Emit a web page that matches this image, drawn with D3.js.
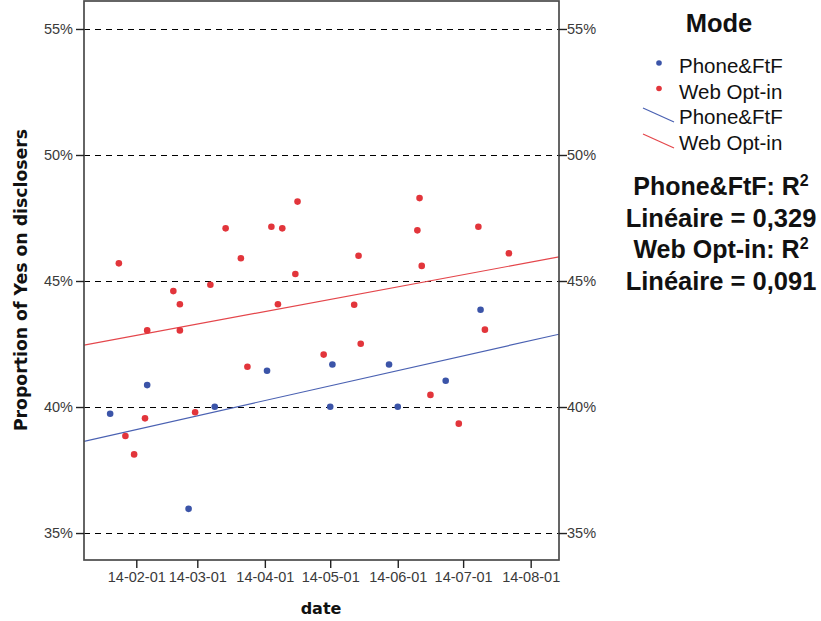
<!DOCTYPE html>
<html>
<head>
<meta charset="utf-8">
<script src="https://cdn.jsdelivr.net/npm/d3@7"></script>
<style>
  html, body { margin: 0; padding: 0; background: #fff; }
  svg { display: block; }
</style>
</head>
<body>
<svg id="chart" width="821" height="621"></svg>
<script>
// ---- Data ----
const seriesNames = ["Phone&FtF", "Web Opt-in"];
const phoneDates = ["2014-01-20","2014-02-06","2014-02-25","2014-03-09","2014-04-02","2014-05-02","2014-05-01","2014-05-28","2014-06-01","2014-06-23","2014-07-09"];
const phoneValues = [0.3973,0.4087,0.3596,0.4001,0.4144,0.4169,0.4001,0.4169,0.4001,0.4104,0.4386];
const webDates = ["2014-01-24","2014-01-27","2014-01-31","2014-02-06","2014-02-05","2014-02-18","2014-02-21","2014-02-21","2014-02-28","2014-03-07","2014-03-14","2014-03-21","2014-03-24","2014-04-04","2014-04-07","2014-04-09","2014-04-15","2014-04-16","2014-04-28","2014-05-12","2014-05-14","2014-05-15","2014-06-10","2014-06-11","2014-06-12","2014-06-16","2014-06-29","2014-07-08","2014-07-11","2014-07-22"];
const webValues = [0.4570,0.3885,0.3812,0.4304,0.3955,0.4460,0.4408,0.4304,0.3979,0.4485,0.4709,0.4590,0.4160,0.4715,0.4408,0.4709,0.4528,0.4815,0.4208,0.4406,0.4600,0.4251,0.4701,0.4829,0.4560,0.4048,0.3934,0.4715,0.4307,0.4610];
const rSquared = ["0,329", "0,091"];
const yTicks = [0.35, 0.40, 0.45, 0.50, 0.55];
const xDomainDates = ["2014-01-08", "2014-08-14"];
const yDomain = [0.3393, 0.5611];

// ---- Setup ----
const parse = d3.utcParse("%Y-%m-%d");
const colors = { "Phone&FtF": "#3b54a8", "Web Opt-in": "#e2353b" };
const lineColors = { "Phone&FtF": "#4a61b2", "Web Opt-in": "#e4464b" };

const plot = { left: 84, right: 559, top: 1, bottom: 560 };
const svg = d3.select("#chart");
svg.append("rect").attr("width", 821).attr("height", 621).attr("fill", "#fff");

const x = d3.scaleUtc().domain(xDomainDates.map(parse)).range([plot.left, plot.right]);
const y = d3.scaleLinear().domain(yDomain).range([plot.bottom, plot.top]);

const series = [
  { name: seriesNames[0], pts: phoneDates.map((d, i) => ({ date: parse(d), v: phoneValues[i] })) },
  { name: seriesNames[1], pts: webDates.map((d, i) => ({ date: parse(d), v: webValues[i] })) }
];

// gridlines
svg.append("g").selectAll("line").data(yTicks).join("line")
  .attr("x1", plot.left).attr("x2", plot.right)
  .attr("y1", d => Math.round(y(d)) + 0.5).attr("y2", d => Math.round(y(d)) + 0.5)
  .attr("stroke", "#000").attr("stroke-width", 1.2).attr("stroke-dasharray", "6,5")
  .attr("shape-rendering", "crispEdges");

// regression lines (least squares on time)
svg.append("clipPath").attr("id", "plotclip").append("rect")
  .attr("x", plot.left).attr("y", plot.top).attr("width", plot.right - plot.left).attr("height", plot.bottom - plot.top);
series.forEach(s => {
  const xs = s.pts.map(p => +p.date), ys = s.pts.map(p => p.v);
  const mx = d3.mean(xs), my = d3.mean(ys);
  let sxy = 0, sxx = 0;
  xs.forEach((xv, i) => { sxy += (xv - mx) * (ys[i] - my); sxx += (xv - mx) ** 2; });
  const b = sxy / sxx, a = my - b * mx;
  const [d0, d1] = x.domain();
  svg.append("line")
    .attr("x1", x(d0)).attr("y1", y(a + b * +d0))
    .attr("x2", x(d1)).attr("y2", y(a + b * +d1))
    .attr("stroke", lineColors[s.name]).attr("stroke-width", 1.2)
    .attr("clip-path", "url(#plotclip)");
});

// points
series.forEach(s => {
  svg.append("g").selectAll("circle").data(s.pts).join("circle")
    .attr("cx", d => x(d.date)).attr("cy", d => y(d.v)).attr("r", 3.3)
    .attr("fill", colors[s.name]);
});

// frame
svg.append("rect").attr("x", plot.left).attr("y", plot.top)
  .attr("width", plot.right - plot.left).attr("height", plot.bottom - plot.top)
  .attr("fill", "none").attr("stroke", "#4a4a4a").attr("stroke-width", 1.7);

// axes
const pct = d3.format(".0%");
const tickFont = "Liberation Sans, Arial, sans-serif";
const yLeft = svg.append("g").attr("transform", `translate(${plot.left},0)`)
  .call(d3.axisLeft(y).tickValues(yTicks).tickFormat(pct).tickSize(8).tickPadding(3));
const yRight = svg.append("g").attr("transform", `translate(${plot.right},0)`)
  .call(d3.axisRight(y).tickValues(yTicks).tickFormat(pct).tickSize(8).tickPadding(0));
const xAxis = svg.append("g").attr("transform", `translate(0,${plot.bottom})`)
  .call(d3.axisBottom(x).ticks(d3.utcMonth.every(1)).tickFormat(d3.utcFormat("%y-%m-%d")).tickSize(8).tickPadding(4));
[yLeft, yRight, xAxis].forEach(g => {
  g.select(".domain").remove();
  g.selectAll(".tick line").attr("stroke", "#222").attr("stroke-width", 1.4);
  g.selectAll(".tick text").attr("fill", "#3a3a3a").style("font-family", tickFont).style("font-size", "14.5px");
});

// axis titles
svg.append("text").attr("x", 321).attr("y", 614).attr("text-anchor", "middle")
  .style("font-family", "DejaVu Sans, Verdana, sans-serif").style("font-weight", "bold").style("font-size", "16px")
  .attr("fill", "#111").text("date");
svg.append("text").attr("transform", "translate(27,280) rotate(-90)").attr("text-anchor", "middle")
  .style("font-family", "DejaVu Sans, Verdana, sans-serif").style("font-weight", "bold").style("font-size", "17.3px")
  .attr("fill", "#111").text("Proportion of Yes on disclosers");

// legend
const lf = "Liberation Sans, Arial, sans-serif";
svg.append("text").attr("x", 719).attr("y", 32).attr("text-anchor", "middle")
  .style("font-family", lf).style("font-weight", "bold").style("font-size", "25.5px").attr("fill", "#111").text("Mode");
const rowsY = [73, 98.5, 124, 150];
series.forEach((s, i) => {
  svg.append("circle").attr("cx", 659).attr("cy", rowsY[i] - 10).attr("r", 2.8).attr("fill", colors[s.name]);
  svg.append("text").attr("x", 679).attr("y", rowsY[i])
    .style("font-family", lf).style("font-size", "20.5px").attr("fill", "#111").text(s.name);
});
series.forEach((s, i) => {
  const yy = rowsY[i + 2];
  svg.append("line").attr("x1", 643).attr("y1", yy - 16).attr("x2", 674).attr("y2", yy - 2)
    .attr("stroke", lineColors[s.name]).attr("stroke-width", 1.2);
  svg.append("text").attr("x", 679).attr("y", yy)
    .style("font-family", lf).style("font-size", "20.5px").attr("fill", "#111").text(s.name);
});

// R squared annotations
const rBase = [195, 226.5, 258, 289.5];
series.forEach((s, i) => {
  const t1 = svg.append("text").attr("x", 721).attr("y", rBase[i * 2]).attr("text-anchor", "middle")
    .style("font-family", lf).style("font-weight", "bold").style("font-size", "25px").attr("fill", "#111");
  t1.append("tspan").text(s.name + ": R");
  t1.append("tspan").attr("dy", -9).style("font-size", "16px").text("2");
  svg.append("text").attr("x", 721).attr("y", rBase[i * 2 + 1]).attr("text-anchor", "middle")
    .style("font-family", lf).style("font-weight", "bold").style("font-size", "25.5px").attr("fill", "#111")
    .text("Linéaire = " + rSquared[i]);
});
</script>
</body>
</html>
